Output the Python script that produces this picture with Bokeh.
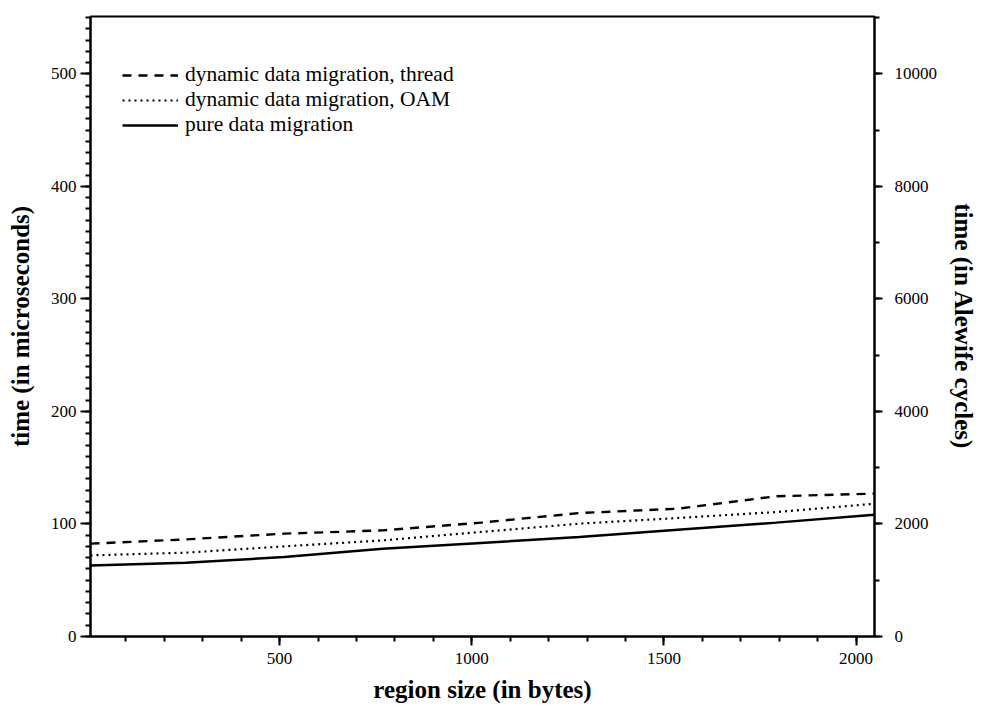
from bokeh.plotting import figure
from bokeh.models import Range1d, LinearAxis, SingleIntervalTicker, Legend, LegendItem
from bokeh.embed import file_html
from bokeh.resources import INLINE

# data
region_size = [8, 256, 512, 768, 1024, 1280, 1536, 1792, 2048]
thread_us = [82.5, 86.3, 91.4, 94.3, 101.2, 109.7, 113.6, 124.6, 127.0]
oam_us = [72.1, 74.5, 80.1, 85.4, 92.9, 100.3, 105.3, 110.6, 118.0]
pure_us = [63.2, 65.6, 70.6, 78.0, 83.1, 88.4, 94.9, 101.2, 108.3]
series_names = ["dynamic data migration, thread",
                "dynamic data migration, OAM",
                "pure data migration"]

FONT = "'Liberation Serif'"

p = figure(width=980, height=705, output_backend="svg", toolbar_location=None,
           x_range=Range1d(8, 2048), y_range=Range1d(0, 551),
           min_border_left=90, min_border_right=104, min_border_top=16, min_border_bottom=68)
p.extra_y_ranges = {"cycles": Range1d(0, 11020)}

p.xgrid.visible = False
p.ygrid.visible = False
p.outline_line_color = "black"
p.outline_line_width = 2
p.background_fill_color = "white"
p.border_fill_color = "white"

r1 = p.line(region_size, thread_us, line_color="black", line_width=2.4, line_dash="9 7")
r2 = p.line(region_size, oam_us, line_color="black", line_width=2.2, line_dash="2 4")
r3 = p.line(region_size, pure_us, line_color="black", line_width=2.5)

# bottom axis
xa = p.xaxis[0]
xa.ticker = SingleIntervalTicker(interval=500, num_minor_ticks=5)
xa.axis_label = "region size (in bytes)"

# left axis
ya = p.yaxis[0]
ya.ticker = SingleIntervalTicker(interval=100, num_minor_ticks=10)
ya.axis_label = "time (in microseconds)"

# right axis
ra = LinearAxis(y_range_name="cycles", ticker=SingleIntervalTicker(interval=2000, num_minor_ticks=2),
                axis_label="time (in Alewife cycles)")
p.add_layout(ra, "right")

for ax in (xa, ya, ra):
    ax.axis_line_color = "black"
    ax.axis_line_width = 2
    ax.major_tick_line_color = "black"
    ax.major_tick_line_width = 2
    ax.minor_tick_line_color = "black"
    ax.minor_tick_line_width = 2
    ax.major_tick_in = 0
    ax.minor_tick_in = 0
    ax.major_label_text_font = FONT
    ax.major_label_text_font_size = "17px"
    ax.major_label_text_color = "black"
    ax.axis_label_text_font = FONT
    ax.axis_label_text_font_style = "bold"
    ax.axis_label_text_font_size = "25px"
    ax.axis_label_text_color = "black"

xa.major_tick_out = 9
xa.minor_tick_out = 5
xa.major_label_standoff = 7
xa.axis_label_standoff = 9
ya.major_tick_out = 10
ya.minor_tick_out = 5
ya.major_label_standoff = 4
ya.axis_label_standoff = 14
ra.major_tick_out = 8
ra.minor_tick_out = 5
ra.major_label_standoff = 12
ra.axis_label_standoff = 10

legend = Legend(items=[LegendItem(label=series_names[0], renderers=[r1]),
                       LegendItem(label=series_names[1], renderers=[r2]),
                       LegendItem(label=series_names[2], renderers=[r3])],
                location=(32, 499))
legend.border_line_color = None
legend.background_fill_alpha = 0
legend.padding = 0
legend.spacing = 0
legend.glyph_width = 56
legend.glyph_height = 20
legend.label_height = 20
legend.label_standoff = 7
legend.label_text_font = FONT
legend.label_text_font_size = "21.5px"
legend.label_text_color = "black"
p.add_layout(legend, "center")

open("out.html", "w").write(file_html(p, INLINE))
